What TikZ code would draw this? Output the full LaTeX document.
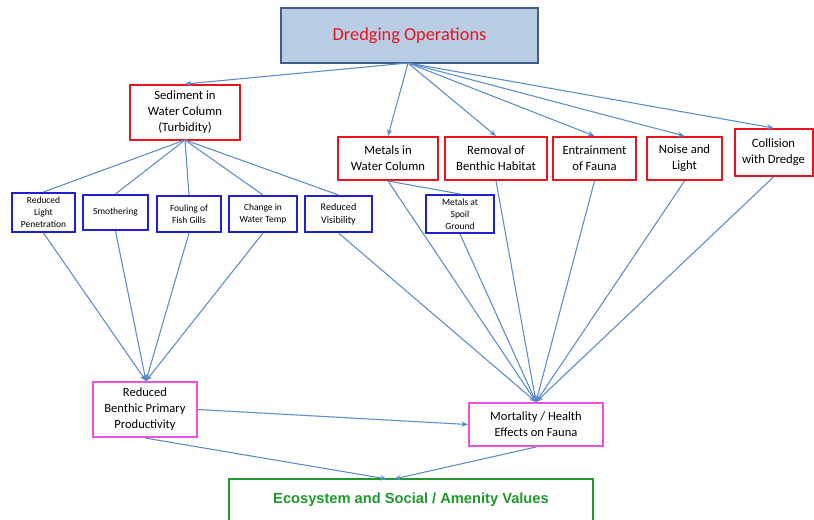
\documentclass[tikz,border=0pt]{standalone}
\usepackage{fontspec}
\setmainfont{Carlito}
\newfontfamily\ecofont{Liberation Sans}
\usetikzlibrary{arrows.meta}
\definecolor{lineblue}{HTML}{5B8CC8}
\definecolor{topfill}{HTML}{B9CDE5}
\definecolor{topdraw}{HTML}{3F5F8A}
\definecolor{redb}{HTML}{E8141E}
\definecolor{blueb}{HTML}{2020D0}
\definecolor{magb}{HTML}{F050E0}
\definecolor{greenb}{HTML}{1F9A2E}
\definecolor{greent}{HTML}{1E9A2A}
\tikzset{
  box/.style={draw, rectangle, inner sep=0pt, align=center, fill=white},
  topbox/.style={box, fill=topfill, draw=topdraw, line width=1.5pt, text=redb, font=\fontsize{13.75}{16}\selectfont},
  redbox/.style={box, draw=redb, line width=1.5pt, font=\fontsize{9.5}{12}\selectfont},
  bluebox/.style={box, draw=blueb, line width=1.5pt, font=\fontsize{7.1}{9}\selectfont},
  magbox/.style={box, draw=magb, line width=1.5pt, font=\fontsize{9.4}{12}\selectfont},
  ecobox/.style={box, draw=greenb, line width=2pt, text=greent, font=\ecofont\bfseries\fontsize{11}{13}\selectfont},
  conn/.style={draw=lineblue, line width=0.8pt},
  arr/.style={conn, -{Stealth[length=5pt,width=4pt]}},
}
\begin{document}
\begin{tikzpicture}[x=0.75pt,y=-0.75pt]
\useasboundingbox (0,0) rectangle (814,520);
\clip (0,0) rectangle (814,520);
% nodes
\node[topbox, minimum width=192.75pt, minimum height=41.25pt] (dredge) at (409.5,35.5) {Dredging Operations};
\node[redbox, minimum width=82.5pt, minimum height=41.25pt] (sed) at (185,112.5) {Sediment in\\Water Column\\(Turbidity)};
\node[bluebox, minimum width=47.25pt, minimum height=29.25pt] (light) at (43.5,212.5) {Reduced\\Light\\Penetration};
\node[bluebox, minimum width=48.75pt, minimum height=26.25pt] (smoth) at (115.5,212.5) {Smothering};
\node[bluebox, minimum width=48pt, minimum height=27pt] (foul) at (189,214) {Fouling of\\Fish Gills};
\node[bluebox, minimum width=51pt, minimum height=27pt] (temp) at (263,214) {Change in\\Water Temp};
\node[bluebox, minimum width=50.25pt, minimum height=27pt, font=\fontsize{7.6}{10}\selectfont] (vis) at (338.5,214) {Reduced\\Visibility};
\node[redbox, minimum width=75pt, minimum height=32.25pt] (metals) at (388,158.5) {Metals in\\Water Column};
\node[redbox, minimum width=76.5pt, minimum height=32.25pt] (removal) at (496,158.5) {Removal of\\Benthic Habitat};
\node[redbox, minimum width=62.25pt, minimum height=32.25pt] (entrain) at (594.5,158.5) {Entrainment\\of Fauna};
\node[redbox, minimum width=56.25pt, minimum height=32.25pt] (noise) at (684.5,158.5) {Noise and\\Light};
\node[redbox, minimum width=58.5pt, minimum height=35.25pt] (collide) at (773.5,152.5) {Collision\\with Dredge};
\node[bluebox, minimum width=51pt, minimum height=28.5pt] (spoil) at (460,214) {Metals at\\Spoil\\Ground};
\node[magbox, minimum width=78pt, minimum height=41.25pt] (rbpp) at (145,409.5) {Reduced\\Benthic Primary\\Productivity};
\node[magbox, minimum width=100.5pt, minimum height=32.25pt] (mort) at (536,424.5) {Mortality / Health\\Effects on Fauna};
\node[ecobox, minimum width=273pt, minimum height=31.5pt] (eco) at (411,500) {Ecosystem and Social / Amenity Values};
% convergence points
\coordinate (rtop) at (146,381);
\coordinate (etop1) at (387,479);
\coordinate (etop2) at (394,479);
\coordinate (dbot) at (408,63);
\coordinate (sbot) at (185,140);
% from dredging
\draw[arr] (dbot) -- (sed.north);
\draw[arr] (dbot) -- (metals.north);
\draw[arr] (dbot) -- (removal.north);
\draw[arr] (dbot) -- (entrain.north);
\draw[arr] (dbot) -- (noise.north);
\draw[arr] (dbot) -- (collide.north);
% sediment to effects
\draw[conn] (sbot) -- (light.north);
\draw[conn] (sbot) -- (smoth.north);
\draw[conn] (sbot) -- (foul.north);
\draw[conn] (sbot) -- (temp.north);
\draw[conn] (sbot) -- (vis.north);
\draw[conn] (metals.south) -- (spoil.north);
% effects to RBPP
\draw[arr] (light.south) -- (rtop);
\draw[arr] (smoth.south) -- (rtop);
\draw[arr] (foul.south) -- (rtop);
\draw[arr] (temp.south) -- (rtop);
% to mortality
\draw[arr] (vis.south) -- (mort.north);
\draw[arr] (metals.south) -- (mort.north);
\draw[arr] (spoil.south) -- (mort.north);
\draw[arr] (removal.south) -- (mort.north);
\draw[arr] (entrain.south) -- (mort.north);
\draw[arr] (noise.south) -- (mort.north);
\draw[arr] (collide.south) -- (mort.north);
\draw[arr] (rbpp.east) -- (mort.west);
% to ecosystem
\draw[arr] (rbpp.south) -- (etop1);
\draw[arr] (mort.south) -- (etop2);
\end{tikzpicture}
\end{document}
